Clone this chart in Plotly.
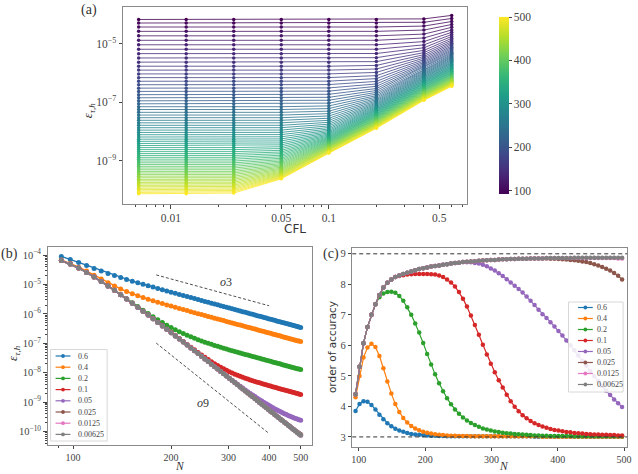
import plotly.graph_objects as go
from plotly.colors import sample_colorscale

W, H = 638, 474
def px(x): return x / W
def py(y): return 1 - y / H

# ---------------- data ----------------
cfl_vals = [0.00625, 0.0125, 0.025, 0.05, 0.1, 0.2, 0.4, 0.6]
cfl_labels = ["0.6", "0.4", "0.2", "0.1", "0.05", "0.025", "0.0125", "0.00625"]
colors10 = ["#1f77b4", "#ff7f0e", "#2ca02c", "#d62728", "#9467bd", "#8c564b", "#e377c2", "#7f7f7f"]

N_b = [92, 98, 104, 110, 116, 122, 128, 134, 140, 146, 152, 158, 164, 170, 176, 182, 188, 194, 200,
       206, 212, 218, 224, 230, 236, 242, 248, 254, 260, 266, 272, 278, 284, 290, 296, 302, 308, 314,
       320, 326, 332, 338, 344, 350, 356, 362, 368, 374, 380, 386, 392, 398, 404, 410, 416, 422, 428,
       434, 440, 446, 452, 458, 464, 470, 476, 482, 488, 494, 500]

# log10 of error for each CFL
lg_00625 = [-4.180, -4.301, -4.437, -4.585, -4.738, -4.891, -5.044, -5.196, -5.346, -5.494, -5.636, -5.775,
            -5.908, -6.038, -6.165, -6.288, -6.407, -6.523, -6.635, -6.746, -6.852, -6.957, -7.058, -7.157,
            -7.254, -7.349, -7.442, -7.532, -7.621, -7.707, -7.792, -7.874, -7.956, -8.036, -8.114, -8.191,
            -8.266, -8.339, -8.412, -8.483, -8.553, -8.622, -8.690, -8.756, -8.821, -8.885, -8.948, -9.011,
            -9.072, -9.132, -9.192, -9.250, -9.308, -9.365, -9.420, -9.475, -9.529, -9.583, -9.637, -9.688,
            -9.740, -9.791, -9.841, -9.890, -9.939, -9.987, -10.035, -10.082, -10.129]
lg_0125 = [-4.180, -4.301, -4.437, -4.585, -4.738, -4.891, -5.044, -5.196, -5.346, -5.494, -5.636, -5.775,
           -5.908, -6.038, -6.165, -6.288, -6.407, -6.523, -6.635, -6.746, -6.852, -6.957, -7.058, -7.157,
           -7.254, -7.349, -7.442, -7.532, -7.621, -7.707, -7.792, -7.874, -7.956, -8.036, -8.114, -8.191,
           -8.266, -8.339, -8.412, -8.483, -8.553, -8.622, -8.690, -8.756, -8.821, -8.885, -8.948, -9.011,
           -9.072, -9.132, -9.192, -9.250, -9.308, -9.365, -9.420, -9.475, -9.529, -9.583, -9.637, -9.688,
           -9.740, -9.791, -9.841, -9.890, -9.939, -9.987, -10.035, -10.082, -10.127]
lg_025 = [-4.180, -4.301, -4.437, -4.585, -4.738, -4.891, -5.044, -5.196, -5.346, -5.494, -5.636, -5.775,
          -5.908, -6.038, -6.165, -6.288, -6.407, -6.523, -6.635, -6.746, -6.852, -6.957, -7.058, -7.157,
          -7.254, -7.349, -7.442, -7.532, -7.621, -7.707, -7.792, -7.874, -7.956, -8.036, -8.114, -8.191,
          -8.266, -8.339, -8.412, -8.483, -8.553, -8.622, -8.690, -8.756, -8.821, -8.885, -8.948, -9.011,
          -9.072, -9.132, -9.192, -9.250, -9.308, -9.365, -9.419, -9.473, -9.527, -9.580, -9.633, -9.683,
          -9.734, -9.784, -9.832, -9.879, -9.926, -9.972, -10.017, -10.061, -10.105]
lg_05 = [-4.180, -4.301, -4.437, -4.585, -4.738, -4.891, -5.044, -5.196, -5.346, -5.494, -5.636, -5.775,
         -5.908, -6.038, -6.165, -6.288, -6.407, -6.523, -6.635, -6.746, -6.852, -6.957, -7.058, -7.157,
         -7.254, -7.349, -7.442, -7.532, -7.621, -7.707, -7.792, -7.873, -7.954, -8.033, -8.109, -8.184,
         -8.256, -8.325, -8.394, -8.459, -8.523, -8.585, -8.646, -8.703, -8.759, -8.813, -8.865, -8.916,
         -8.965, -9.012, -9.057, -9.101, -9.143, -9.184, -9.222, -9.259, -9.295, -9.329, -9.363, -9.394,
         -9.424, -9.453, -9.480, -9.506, -9.531, -9.554, -9.577, -9.599, -9.620]
lg_1 = [-4.180, -4.301, -4.437, -4.585, -4.738, -4.891, -5.044, -5.196, -5.346, -5.494, -5.636, -5.775,
        -5.908, -6.037, -6.163, -6.285, -6.402, -6.516, -6.626, -6.734, -6.837, -6.938, -7.035, -7.130,
        -7.221, -7.309, -7.394, -7.474, -7.551, -7.622, -7.690, -7.753, -7.812, -7.867, -7.918, -7.965,
        -8.008, -8.049, -8.087, -8.122, -8.155, -8.187, -8.216, -8.244, -8.270, -8.295, -8.320, -8.344,
        -8.367, -8.390, -8.412, -8.433, -8.454, -8.475, -8.494, -8.514, -8.533, -8.551, -8.571, -8.588,
        -8.607, -8.624, -8.642, -8.658, -8.675, -8.692, -8.709, -8.725, -8.741]
lg_2 = [-4.180, -4.301, -4.437, -4.585, -4.738, -4.891, -5.044, -5.195, -5.341, -5.483, -5.618, -5.748,
        -5.871, -5.987, -6.097, -6.199, -6.294, -6.381, -6.461, -6.537, -6.604, -6.668, -6.725, -6.779,
        -6.828, -6.875, -6.919, -6.959, -6.998, -7.034, -7.069, -7.101, -7.133, -7.164, -7.193, -7.222,
        -7.249, -7.275, -7.302, -7.327, -7.352, -7.376, -7.400, -7.423, -7.445, -7.467, -7.489, -7.511,
        -7.532, -7.552, -7.573, -7.593, -7.613, -7.633, -7.651, -7.670, -7.688, -7.706, -7.725, -7.743,
        -7.761, -7.778, -7.795, -7.811, -7.828, -7.844, -7.861, -7.877, -7.893]
lg_4 = [-4.160, -4.276, -4.405, -4.541, -4.679, -4.811, -4.935, -5.047, -5.146, -5.235, -5.312, -5.381,
        -5.442, -5.498, -5.551, -5.600, -5.646, -5.691, -5.732, -5.773, -5.811, -5.849, -5.885, -5.920,
        -5.954, -5.988, -6.020, -6.051, -6.082, -6.112, -6.141, -6.169, -6.198, -6.225, -6.252, -6.279,
        -6.304, -6.329, -6.354, -6.378, -6.402, -6.426, -6.449, -6.472, -6.494, -6.515, -6.537, -6.559,
        -6.579, -6.600, -6.621, -6.640, -6.660, -6.680, -6.698, -6.717, -6.735, -6.753, -6.772, -6.789,
        -6.807, -6.824, -6.842, -6.858, -6.875, -6.891, -6.907, -6.923, -6.939]
lg_6 = [-4.040, -4.146, -4.250, -4.352, -4.448, -4.537, -4.618, -4.692, -4.760, -4.824, -4.882, -4.937,
        -4.988, -5.037, -5.085, -5.130, -5.174, -5.216, -5.256, -5.296, -5.333, -5.370, -5.406, -5.440,
        -5.474, -5.507, -5.539, -5.571, -5.602, -5.631, -5.660, -5.688, -5.717, -5.744, -5.771, -5.798,
        -5.823, -5.848, -5.873, -5.897, -5.921, -5.945, -5.968, -5.991, -6.013, -6.034, -6.056, -6.078,
        -6.098, -6.119, -6.140, -6.159, -6.179, -6.199, -6.217, -6.236, -6.254, -6.272, -6.291, -6.308,
        -6.326, -6.343, -6.361, -6.377, -6.394, -6.410, -6.426, -6.442, -6.458]

N_c = [95, 101, 107, 113, 119, 125, 131, 137, 143, 149, 155, 161, 167, 173, 179, 185, 191, 197, 203, 209,
       215, 221, 227, 233, 239, 245, 251, 257, 263, 269, 275, 281, 287, 293, 299, 305, 311, 317, 323, 329,
       335, 341, 347, 353, 359, 365, 371, 377, 383, 389, 395, 401, 407, 413, 419, 425, 431, 437, 443, 449,
       455, 461, 467, 473, 479, 485, 491, 497]

ord_00625 = [4.40, 5.30, 6.07, 6.60, 7.00, 7.35, 7.65, 7.90, 8.05, 8.16, 8.24, 8.29, 8.34, 8.38, 8.42, 8.46,
             8.50, 8.53, 8.55, 8.58, 8.60, 8.62, 8.64, 8.66, 8.68, 8.70, 8.71, 8.73, 8.74, 8.75, 8.76, 8.77,
             8.78, 8.79, 8.80, 8.80, 8.81, 8.82, 8.82, 8.83, 8.83, 8.84, 8.84, 8.84, 8.85, 8.85, 8.85, 8.85,
             8.86, 8.86, 8.86, 8.86, 8.86, 8.86, 8.86, 8.87, 8.87, 8.87, 8.87, 8.87, 8.87, 8.87, 8.87, 8.87,
             8.87, 8.87, 8.87, 8.87]
ord_0125 = [4.40, 5.30, 6.07, 6.60, 7.00, 7.35, 7.65, 7.90, 8.05, 8.16, 8.24, 8.29, 8.34, 8.38, 8.42, 8.46,
            8.50, 8.53, 8.55, 8.58, 8.60, 8.62, 8.64, 8.66, 8.68, 8.70, 8.71, 8.73, 8.74, 8.75, 8.76, 8.77,
            8.78, 8.79, 8.80, 8.80, 8.81, 8.82, 8.82, 8.83, 8.83, 8.84, 8.84, 8.84, 8.85, 8.85, 8.85, 8.85,
            8.86, 8.86, 8.86, 8.86, 8.86, 8.86, 8.86, 8.86, 8.86, 8.86, 8.86, 8.86, 8.86, 8.86, 8.86, 8.86,
            8.86, 8.86, 8.85, 8.85]
ord_025 = [4.40, 5.30, 6.07, 6.60, 7.00, 7.35, 7.65, 7.90, 8.05, 8.16, 8.24, 8.29, 8.34, 8.38, 8.42, 8.46,
           8.50, 8.53, 8.55, 8.58, 8.60, 8.62, 8.64, 8.66, 8.68, 8.70, 8.71, 8.73, 8.74, 8.75, 8.76, 8.77,
           8.78, 8.79, 8.80, 8.80, 8.81, 8.82, 8.82, 8.83, 8.83, 8.84, 8.84, 8.84, 8.85, 8.85, 8.85, 8.85,
           8.85, 8.84, 8.84, 8.83, 8.82, 8.81, 8.80, 8.79, 8.77, 8.75, 8.73, 8.70, 8.66, 8.62, 8.57, 8.51,
           8.45, 8.37, 8.28, 8.16]
ord_05 = [4.40, 5.30, 6.07, 6.60, 7.00, 7.35, 7.65, 7.90, 8.05, 8.16, 8.24, 8.29, 8.34, 8.38, 8.42, 8.46,
          8.50, 8.53, 8.55, 8.58, 8.60, 8.62, 8.64, 8.66, 8.68, 8.70, 8.71, 8.73, 8.72, 8.72, 8.70, 8.68,
          8.64, 8.59, 8.52, 8.45, 8.36, 8.27, 8.17, 8.06, 7.95, 7.85, 7.73, 7.60, 7.46, 7.32, 7.17, 7.02,
          6.90, 6.76, 6.62, 6.47, 6.32, 6.16, 6.00, 5.84, 5.67, 5.50, 5.33, 5.16, 4.99, 4.83, 4.67, 4.51,
          4.37, 4.23, 4.10, 3.98]
ord_1 = [4.40, 5.30, 6.07, 6.60, 7.00, 7.35, 7.65, 7.90, 8.05, 8.16, 8.24, 8.27, 8.30, 8.32, 8.33, 8.34,
         8.34, 8.34, 8.34, 8.33, 8.32, 8.29, 8.24, 8.16, 8.06, 7.93, 7.75, 7.53, 7.27, 6.98, 6.67, 6.35,
         6.02, 5.70, 5.40, 5.12, 4.86, 4.62, 4.38, 4.17, 3.99, 3.84, 3.71, 3.61, 3.52, 3.45, 3.39, 3.34,
         3.30, 3.26, 3.23, 3.21, 3.19, 3.16, 3.15, 3.13, 3.12, 3.11, 3.10, 3.09, 3.08, 3.08, 3.07, 3.07,
         3.06, 3.06, 3.05, 3.05]
ord_2 = [4.40, 5.30, 6.07, 6.60, 7.00, 7.35, 7.58, 7.70, 7.75, 7.76, 7.72, 7.62, 7.46, 7.25, 7.00, 6.72,
         6.42, 6.08, 5.72, 5.37, 5.05, 4.76, 4.50, 4.27, 4.07, 3.90, 3.76, 3.64, 3.54, 3.46, 3.39, 3.33,
         3.28, 3.24, 3.21, 3.18, 3.16, 3.14, 3.12, 3.11, 3.10, 3.09, 3.08, 3.07, 3.06, 3.05, 3.05, 3.04,
         3.04, 3.03, 3.03, 3.03, 3.03, 3.03, 3.03, 3.02, 3.02, 3.02, 3.02, 3.02, 3.02, 3.02, 3.02, 3.02,
         3.02, 3.02, 3.02, 3.02]
ord_4 = [4.30, 5.00, 5.60, 5.93, 6.05, 5.95, 5.65, 5.25, 4.82, 4.42, 4.08, 3.82, 3.62, 3.47, 3.36, 3.28,
         3.22, 3.17, 3.14, 3.11, 3.09, 3.07, 3.06, 3.05, 3.04, 3.04, 3.03, 3.03, 3.03, 3.02, 3.02, 3.02,
         3.02, 3.02, 3.02, 3.02, 3.02, 3.02, 3.02, 3.02, 3.02, 3.02, 3.02, 3.02, 3.02, 3.02, 3.02, 3.01,
         3.01, 3.01, 3.01, 3.01, 3.01, 3.01, 3.01, 3.01, 3.01, 3.01, 3.01, 3.01, 3.01, 3.01, 3.01, 3.01,
         3.01, 3.01, 3.01, 3.01]
ord_6 = [3.85, 4.08, 4.17, 4.15, 4.05, 3.90, 3.73, 3.58, 3.45, 3.35, 3.27, 3.21, 3.17, 3.13, 3.10, 3.08,
         3.07, 3.06, 3.05, 3.04, 3.04, 3.03, 3.03, 3.02, 3.02, 3.02, 3.02, 3.02, 3.02, 3.02, 3.02, 3.02,
         3.02, 3.02, 3.02, 3.02, 3.02, 3.02, 3.02, 3.02, 3.02, 3.02, 3.02, 3.02, 3.02, 3.01, 3.01, 3.01,
         3.01, 3.01, 3.01, 3.01, 3.01, 3.01, 3.01, 3.01, 3.01, 3.01, 3.01, 3.01, 3.01, 3.01, 3.01, 3.01,
         3.01, 3.01, 3.01, 3.01]

# reference slope guides in panel (b): N end points and log10 error
guide_N = [180, 400]
guide_o3 = [-4.67, -5.72]
guide_o9 = [-6.99, -10.07]

# series in legend order (0.6 ... 0.00625)
err_series = [lg_6, lg_4, lg_2, lg_1, lg_05, lg_025, lg_0125, lg_00625]
ord_series = [ord_6, ord_4, ord_2, ord_1, ord_05, ord_025, ord_0125, ord_00625]
# by ascending CFL for panel (a)
err_by_cfl = [lg_00625, lg_0125, lg_025, lg_05, lg_1, lg_2, lg_4, lg_6]

# ---------------- figure ----------------
SERIF = "Liberation Serif"
SANS = "DejaVu Sans"
TICKC = "#444444"
AXC = "#8a8a8a"

fig = go.Figure()

cmin, cmax = 92, 500
for i, n in enumerate(N_b):
    col = sample_colorscale("Viridis", [(n - cmin) / (cmax - cmin)])[0]
    fig.add_trace(go.Scatter(
        x=cfl_vals, y=[10 ** s[i] for s in err_by_cfl], mode="lines+markers",
        line=dict(color=col, width=0.8), marker=dict(color=col, size=3.5),
        showlegend=False, hoverinfo="skip", xaxis="x", yaxis="y"))

fig.add_trace(go.Scatter(
    x=[0.01], y=[1e-5], mode="markers",
    marker=dict(size=0.1, opacity=0, color=[cmin], cmin=cmin, cmax=cmax, colorscale="Viridis",
                showscale=True,
                colorbar=dict(thickness=10, len=197, lenmode="pixels", x=px(492), xanchor="left",
                              y=py(105.5), yanchor="middle", outlinewidth=0,
                              tickvals=[100, 200, 300, 400, 500], ticks="outside", ticklen=3,
                              tickcolor=TICKC, tickfont=dict(family=SERIF, size=11.5, color=TICKC))),
    showlegend=False, hoverinfo="skip", xaxis="x", yaxis="y"))

for lab, col, s in zip(cfl_labels, colors10, err_series):
    fig.add_trace(go.Scatter(
        x=N_b, y=[10 ** v for v in s], mode="lines+markers", name=lab,
        line=dict(color=col, width=1.5), marker=dict(color=col, size=5),
        showlegend=False, xaxis="x2", yaxis="y2"))

fig.add_trace(go.Scatter(x=guide_N, y=[10 ** v for v in guide_o3], mode="lines",
                         line=dict(color="#222222", width=0.8, dash="3px,2px"),
                         showlegend=False, hoverinfo="skip", xaxis="x2", yaxis="y2"))
fig.add_trace(go.Scatter(x=guide_N, y=[10 ** v for v in guide_o9], mode="lines",
                         line=dict(color="#222222", width=0.8, dash="3px,2px"),
                         showlegend=False, hoverinfo="skip", xaxis="x2", yaxis="y2"))

for lab, col, s in zip(cfl_labels, colors10, ord_series):
    fig.add_trace(go.Scatter(
        x=N_c, y=s, mode="lines+markers", name=lab,
        line=dict(color=col, width=1.2), marker=dict(color=col, size=4.5),
        showlegend=False, xaxis="x3", yaxis="y3"))

def axstyle(**kw):
    d = dict(showline=True, mirror=True, linecolor=AXC, linewidth=1, ticks="outside", ticklen=3.5,
             tickcolor=TICKC, showgrid=False, zeroline=False,
             tickfont=dict(family=SERIF, size=10.5, color=TICKC))
    d.update(kw)
    return d

sup = lambda e: "10<sup>\u2212%d</sup>" % e
minor_a_x = [0.006, 0.007, 0.008, 0.009, 0.02, 0.03, 0.04, 0.06, 0.07, 0.08, 0.09, 0.2, 0.3, 0.4, 0.6, 0.7]
minor_b_y = [k * 10 ** e for e in range(-11, -3) for k in range(2, 10)]

fig.update_layout(
    width=W, height=H, margin=dict(l=0, r=0, t=0, b=0),
    paper_bgcolor="white", plot_bgcolor="white",
    xaxis=axstyle(type="log", domain=[px(123), px(470)], range=[-2.303, -0.123],
                  tickvals=[0.01, 0.05, 0.1, 0.5], ticktext=["0.01", "0.05", "0.1", "0.5"],
                  tickfont=dict(family=SERIF, size=11.5, color=TICKC),
                  minor=dict(ticks="outside", ticklen=2, tickcolor=TICKC, tickvals=minor_a_x),
                  anchor="y"),
    yaxis=axstyle(type="log", domain=[py(204), py(7)], range=[-10.478, -3.754],
                  tickvals=[1e-5, 1e-7, 1e-9], ticktext=[sup(5), sup(7), sup(9)],
                  tickfont=dict(family=SERIF, size=11.5, color=TICKC), anchor="x"),
    xaxis2=axstyle(type="log", domain=[px(47), px(313)], range=[1.9217, 2.7324],
                   tickvals=[100, 200, 300, 400, 500], ticktext=["100", "200", "300", "400", "500"],
                   ticklen=3, tickfont=dict(family=SERIF, size=10, color=TICKC),
                   minor=dict(ticks="outside", ticklen=2, tickcolor=TICKC, tickvals=[90]),
                   anchor="y2"),
    yaxis2=axstyle(type="log", domain=[py(445), py(247.3)], range=[-10.46, -3.73],
                   tickvals=[10.0 ** -e for e in range(4, 11)], ticktext=[sup(e) for e in range(4, 11)],
                   minor=dict(ticks="outside", ticklen=2, tickcolor=TICKC, tickvals=minor_b_y),
                   anchor="x2"),
    xaxis3=axstyle(domain=[px(354), px(631)], range=[90, 504.5],
                   ticklen=3, tickfont=dict(family=SERIF, size=10, color=TICKC),
                   tickvals=[100, 200, 300, 400, 500], anchor="y3"),
    yaxis3=axstyle(domain=[py(446.7), py(247.7)], range=[2.68, 9.2],
                   tickvals=[3, 4, 5, 6, 7, 8, 9], anchor="x3"),
)

shapes = []
for yv in [3, 9]:
    shapes.append(dict(type="line", xref="x3 domain", yref="y3", x0=0, x1=1, y0=yv, y1=yv,
                       line=dict(color="#333333", width=1, dash="4px,3px")))

annotations = []
def ann(x, y, text, size, family=SERIF, angle=0, color="#333333", xanchor="center", yanchor="middle"):
    annotations.append(dict(x=px(x), y=py(y), xref="paper", yref="paper", text=text, showarrow=False,
                            font=dict(family=family, size=size, color=color), textangle=angle,
                            xanchor=xanchor, yanchor=yanchor))

ann(89, 10, "(a)", 14)
ann(9, 254, "(b)", 14)
ann(333, 254, "(c)", 14)
ann(296.5, 228.5, "CFL", 12, family=SANS)
ann(88, 110, "<i>ε</i><sub><i>τ,h</i></sub>", 13, angle=-90)
ann(12, 353, "<i>ε</i><sub><i>τ,h</i></sub>", 13, angle=-90)
ann(180, 474, "<i>N</i>", 11.5, yanchor="bottom")
ann(507, 474, "<i>N</i>", 11.5, yanchor="bottom")
ann(333, 346.7, "order of accuracy", 10.5, family=SANS, angle=-90)
ann(226.7, 281.7, "<i>o</i>3", 12)
ann(203.3, 402.7, "<i>o</i>9", 12)

def legend(x0, x1, y0, y1, lx0, lx1, tx, row0, dy):
    shapes.append(dict(type="rect", xref="paper", yref="paper", x0=px(x0), x1=px(x1), y0=py(y1), y1=py(y0),
                       line=dict(color="#d8d8d8", width=1), fillcolor="rgba(255,255,255,0.85)", layer="above"))
    for i, (lab, col) in enumerate(zip(cfl_labels, colors10)):
        yy = row0 + dy * i
        shapes.append(dict(type="line", xref="paper", yref="paper", x0=px(lx0), x1=px(lx1), y0=py(yy), y1=py(yy),
                           line=dict(color=col, width=1.2), layer="above"))
        cx = (lx0 + lx1) / 2
        r = 1.9
        shapes.append(dict(type="circle", xref="paper", yref="paper", x0=px(cx - r), x1=px(cx + r),
                           y0=py(yy + r), y1=py(yy - r), line=dict(color=col, width=0), fillcolor=col,
                           layer="above"))
        ann(tx, yy, lab, 8, color="#444444", xanchor="left")

legend(50, 107, 349.5, 441, 55, 70, 76, 356, 11.2)
legend(572, 627, 302, 392, 581.5, 596.5, 598.5, 307.5, 11.0)

fig.update_layout(shapes=shapes, annotations=annotations)
fig.write_html("out.html")
